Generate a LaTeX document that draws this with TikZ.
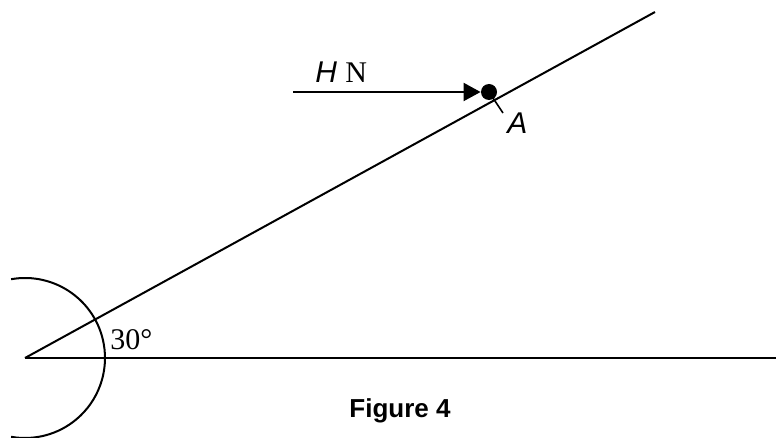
\documentclass[tikz,border=0pt]{standalone}
\usepackage{fontspec}
\setmainfont{Liberation Serif}
\setsansfont{Liberation Sans}
\usetikzlibrary{arrows.meta, positioning}

\begin{document}
\begin{tikzpicture}[
			x=0.5pt, y=-0.5pt,
			line/.style={line width=1pt, color=black},
			force/.style={line width=1pt, -{Triangle[length=8.5pt, width=9pt]}},
			dot/.style={circle, fill=black, inner sep=0pt, minimum size=8pt},
			lbl/.style={inner sep=0pt, font=\fontsize{15}{18}\selectfont}
			]
			\useasboundingbox (0,0) rectangle (776,438);
			
			% -------- Plane --------
			\coordinate (O) at (25,358);
			\coordinate (E) at (776,358);
			\coordinate (T) at (655,12);
			
			\draw[line] (O) -- (E);
			\draw[line] (O) -- (T);
			\draw[line] (O) ++(-100:80) arc[start angle=-100, end angle=100, radius=80];
			
			% -------- Force at A --------
			\node[dot] (A) at (489,92) {};
			\coordinate (tail) at (293,92);
			\coordinate (tick) at (503,113);
			
			\draw[force] (tail) -- (A);
			\draw[line, line width=0.8pt] (A.center) -- (tick);
			
			% -------- Labels --------
			\node[lbl, anchor=base west] (hlabel) at (315,83) {\sffamily\itshape H \rmfamily\upshape N};
			\node[lbl, anchor=base west] (alabel) at (507,134) {\sffamily\itshape A};
			\node[lbl, anchor=base west] (anglelabel) at (110,350) {30°};
			\node[inner sep=0pt, anchor=base, font=\sffamily\bfseries\fontsize{13}{16}\selectfont] (caption) at (400,417) {Figure 4};
			
	\end{tikzpicture}
\end{document}
